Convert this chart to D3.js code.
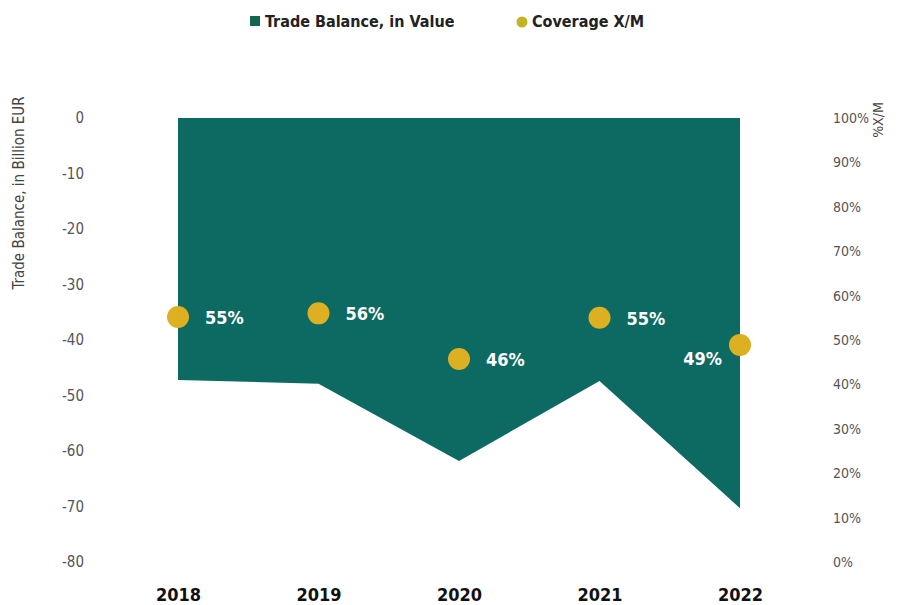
<!DOCTYPE html>
<html><head><meta charset="utf-8">
<script src="https://cdn.jsdelivr.net/npm/d3@7"></script>
<style>
body{margin:0;background:#fff;}
text{font-family:"DejaVu Sans Condensed","Liberation Sans Narrow",sans-serif;}
</style></head><body>
<svg id="c" width="901" height="605"></svg>
<script>
const years = ["2018","2019","2020","2021","2022"];
const tradeBalance = [-47.2, -47.9, -61.8, -47.4, -70.3];
const coverage = [55.2, 56.0, 45.7, 55.0, 48.9];
const coverageLabels = ["55%","56%","46%","55%","49%"];
const leftTicks = [0,-10,-20,-30,-40,-50,-60,-70,-80];
const rightTicks = [0,10,20,30,40,50,60,70,80,90,100];

const svg = d3.select("#c");
const x = d3.scalePoint().domain(years).range([178,740]);
const yL = d3.scaleLinear().domain([-80,0]).range([562,118]);
const yR = d3.scaleLinear().domain([0,100]).range([562,118]);

const areaColor = "#0d6a62", dotColor = "#dcb021";
const ff = '"DejaVu Sans Condensed","Liberation Sans Narrow",sans-serif';

// area
const area = d3.area().x((d,i)=>x(years[i])).y0(yL(0)).y1(d=>yL(d));
svg.append("path").datum(tradeBalance).attr("d",area).attr("fill",areaColor);

// left axis
const la = svg.append("g").attr("transform","translate(84,0)")
  .call(d3.axisLeft(yL).tickValues(leftTicks).tickSize(0).tickPadding(0).tickFormat(d=>String(d).replace("\u2212","-")));
la.select(".domain").remove();
la.selectAll("text").attr("fill","#555").style("font-size","15px").style("font-family",ff);

// right axis
const ra = svg.append("g").attr("transform","translate(833,0)")
  .call(d3.axisRight(yR).tickValues(rightTicks).tickSize(0).tickPadding(0).tickFormat(d=>d+"%"));
ra.select(".domain").remove();
ra.selectAll("text").attr("fill","#555").style("font-size","14px").style("font-family",ff);

// x axis labels
const xa = svg.append("g").attr("transform","translate(0,588)")
  .call(d3.axisBottom(x).tickSize(0).tickPadding(0));
xa.select(".domain").remove();
xa.selectAll("text").attr("fill","#111").style("font-size","18px").style("font-weight","bold").style("font-family",ff);

// axis titles
svg.append("text").attr("transform","translate(24,193) rotate(-90)").attr("text-anchor","middle")
  .attr("fill","#444").style("font-size","15px").text("Trade Balance, in Billion EUR");
svg.append("text").attr("transform","translate(883,120) rotate(-90)").attr("text-anchor","middle")
  .attr("fill","#444").style("font-size","14px").text("%X/M");

// dots
svg.selectAll("circle.dot").data(coverage).enter().append("circle")
  .attr("cx",(d,i)=>x(years[i])).attr("cy",d=>yR(d)).attr("r",11).attr("fill",dotColor);

// labels
svg.selectAll("text.lab").data(coverage).enter().append("text")
  .attr("x",(d,i)=> i===4 ? x(years[i])-18 : x(years[i])+27)
  .attr("y",(d,i)=> i===4 ? yR(d)+20 : yR(d)+7)
  .attr("text-anchor",(d,i)=> i===4 ? "end" : "start")
  .attr("fill","#fff").style("font-size","18px").style("font-weight","bold")
  .text((d,i)=>coverageLabels[i]);

// legend
svg.append("rect").attr("x",250).attr("y",16).attr("width",10).attr("height",10).attr("fill","#13664f");
svg.append("text").attr("x",265).attr("y",27).attr("fill","#222").style("font-size","16px").style("font-weight","bold").text("Trade Balance, in Value");
svg.append("circle").attr("cx",522).attr("cy",22).attr("r",5.5).attr("fill","#c4b320");
svg.append("text").attr("x",532).attr("y",27).attr("fill","#222").style("font-size","16px").style("font-weight","bold").text("Coverage X/M");
</script>
</body></html>
